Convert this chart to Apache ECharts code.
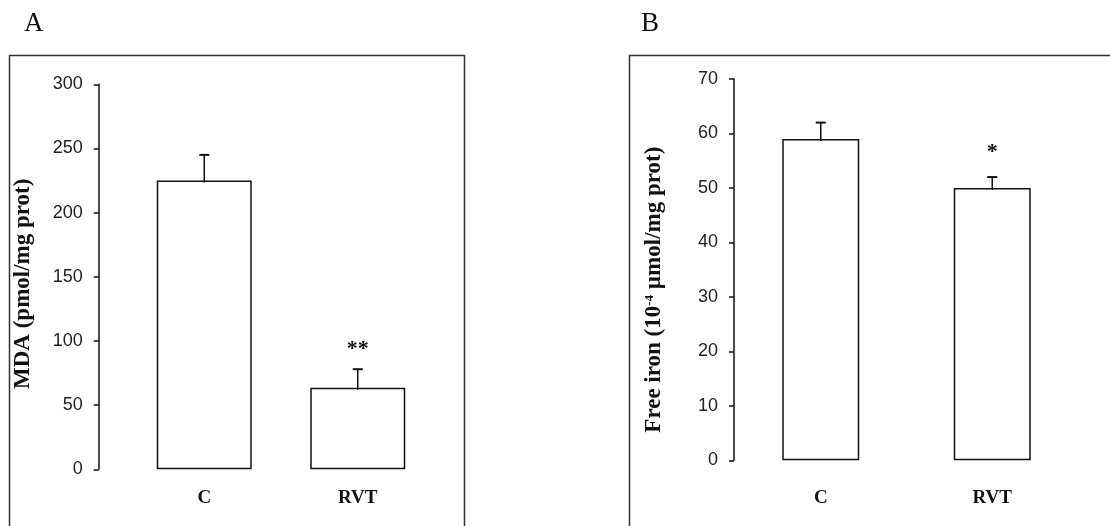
<!DOCTYPE html>
<html><head><meta charset="utf-8">
<script src="https://cdn.jsdelivr.net/npm/echarts@6/dist/echarts.min.js"></script>
<style>html,body{margin:0;padding:0;background:#fff}#c{width:1110px;height:526px}</style>
</head><body><div id="c"></div>
<script>
// ---- data ----
const categories = ['C', 'RVT'];
const mdaMean = [225, 63.5];
const mdaErr = [20, 14.5];
const mdaSig = ['', '**'];
const ironMean = [59, 50];
const ironErr = [3, 2];
const ironSig = ['', '*'];
const mdaAxis = [0, 300, 50];   // min, max, interval
const ironAxis = [0, 70, 10];
const mdaName = 'MDA (pmol/mg prot)';
const ironNameParts = ['Free iron (10', '-4', ' µmol/mg prot)'];

const INK = '#111';
const SERIF = '"Liberation Serif", "Times New Roman", serif';
const NARROW = '"Liberation Sans", Arial, sans-serif';

function xAx(gi, margin) {
  return {
    type: 'category', gridIndex: gi, data: categories,
    axisLine: {show: false}, axisTick: {show: false},
    axisLabel: {margin: margin, fontFamily: SERIF, fontWeight: 'bold', fontSize: 19, color: INK}
  };
}
function yAx(gi, ax, offset, name, nameGap, shift, rich) {
  const o = {
    type: 'value', gridIndex: gi, min: ax[0], max: ax[1], interval: ax[2], offset: offset,
    axisLine: {show: true, lineStyle: {color: INK, width: 1.5}},
    axisTick: {show: true, length: 5, lineStyle: {color: INK, width: 1.5}},
    splitLine: {show: false},
    axisLabel: {margin: 16, fontFamily: NARROW, fontSize: 18, color: '#222'},
    name: name, nameLocation: 'middle', nameGap: nameGap, nameRotate: 90,
    nameTextStyle: {fontFamily: SERIF, fontWeight: 'bold', fontSize: 23, color: INK, padding: [0, shift, 0, 0]}
  };
  if (rich) o.nameTextStyle.rich = rich;
  return o;
}
function barSeries(gi, vals, bw) {
  return {
    type: 'bar', xAxisIndex: gi, yAxisIndex: gi, data: vals, barWidth: bw,
    itemStyle: {color: '#fff', borderColor: INK, borderWidth: 1.5},
    silent: true, z: 2
  };
}
function errSeries(gi, means, errs, sigs, sigFont, sigGap) {
  return {
    type: 'custom', xAxisIndex: gi, yAxisIndex: gi, z: 3, silent: true,
    data: means.map((m, i) => [i, m, m + errs[i]]),
    renderItem: function (params, api) {
      const base = api.coord([api.value(0), api.value(1)]);
      const top = api.coord([api.value(0), api.value(2)]);
      const x = base[0];
      const ch = [
        {type: 'line', shape: {x1: x, y1: base[1] + 2, x2: x, y2: top[1]}, style: {stroke: INK, lineWidth: 1.5}},
        {type: 'line', shape: {x1: x - 5, y1: top[1], x2: x + 5, y2: top[1]}, style: {stroke: INK, lineWidth: 2}}
      ];
      const s = sigs[params.dataIndex];
      if (s) ch.push({type: 'text', style: {text: s, x: x, y: top[1] - sigGap, align: 'center', verticalAlign: 'bottom',
        textAlign: 'center', textVerticalAlign: 'bottom', font: sigFont, fill: INK}});
      return {type: 'group', children: ch};
    }
  };
}

const chart = echarts.init(document.getElementById('c'), null, {renderer: 'canvas'});
chart.setOption({
  backgroundColor: '#fff',
  animation: false,
  grid: [
    {left: 127.5, top: 84.3, width: 307, height: 385},
    {left: 735, top: 79, width: 343, height: 381.3}
  ],
  xAxis: [xAx(0, 19), xAx(1, 28)],
  yAxis: [
    yAx(0, mdaAxis, 28.8, mdaName, 64, 14),
    yAx(1, ironAxis, 1, '{a|' + ironNameParts[0] + '}{s|' + ironNameParts[1] + '}{a|' + ironNameParts[2] + '}', 68, 40,
      {a: {fontFamily: SERIF, fontWeight: 'bold', fontSize: 23, color: INK},
       s: {fontFamily: SERIF, fontWeight: 'bold', fontSize: 13, color: INK, verticalAlign: 'top'}})
  ],
  series: [
    barSeries(0, mdaMean, 95),
    errSeries(0, mdaMean, mdaErr, mdaSig, 'bold 22px ' + SERIF, 9),
    barSeries(1, ironMean, 77),
    errSeries(1, ironMean, ironErr, ironSig, 'bold 22px ' + SERIF, 14)
  ],
  graphic: [
    {type: 'rect', shape: {x: 9.5, y: 55.5, width: 455, height: 520}, style: {fill: 'none', stroke: '#333', lineWidth: 1.5}, silent: true},
    {type: 'rect', shape: {x: 629.5, y: 55.5, width: 600, height: 520}, style: {fill: 'none', stroke: '#333', lineWidth: 1.5}, silent: true},
    {type: 'text', x: 24, y: 10, style: {text: 'A', font: '27px ' + SERIF, fill: INK}, silent: true},
    {type: 'text', x: 641, y: 10, style: {text: 'B', font: '27px ' + SERIF, fill: INK}, silent: true}
  ]
});
</script></body></html>
